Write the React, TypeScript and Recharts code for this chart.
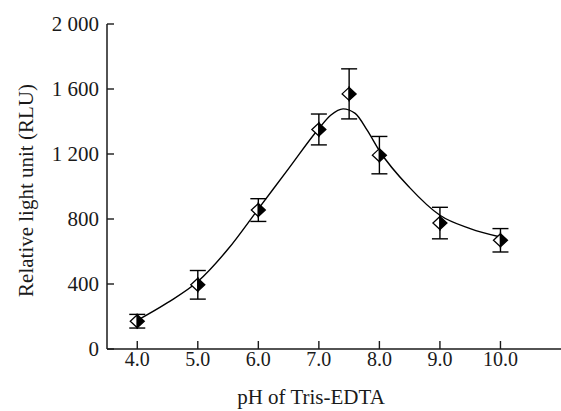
import { ComposedChart, Line, Scatter, ErrorBar, XAxis, YAxis } from "recharts";

// measured points (mean ± sd)
const phValues = [4.0, 5.0, 6.0, 7.0, 7.5, 8.0, 9.0, 10.0];
const rluValues = [171, 395, 855, 1351, 1570, 1193, 775, 669];
const rluErrors = [42, 88, 70, 95, 154, 115, 97, 72];

// fitted curve
const fitPh = [4.0, 4.5, 5.0, 5.5, 6.0, 6.5, 7.0, 7.2, 7.4, 7.6, 7.8, 8.0, 8.5, 9.0, 9.5, 10.0];
const fitRlu = [176, 285, 415, 615, 862, 1110, 1357, 1440, 1478, 1450, 1345, 1220, 993, 823, 741, 689];

const xTicks = [4, 5, 6, 7, 8, 9, 10];
const yTicks = [0, 400, 800, 1200, 1600, 2000];

const points = phValues.map((ph, i) => ({ ph, rlu: rluValues[i], err: rluErrors[i] }));
const curve = fitPh.map((ph, i) => ({ ph, rlu: fitRlu[i] }));

const FONT = "'Liberation Serif', 'Times New Roman', serif";
const INK = "#1a1a1a";

function fmtY(v: number): string {
  if (v >= 1000) return `${Math.floor(v / 1000)} ${String(v % 1000).padStart(3, "0")}`;
  return String(v);
}

function XTick(props: any) {
  const { x, y, payload } = props;
  return (
    <g>
      <line x1={x} x2={x} y1={y} y2={y - 8} stroke={INK} strokeWidth={1.4} />
      <text x={x} y={y + 17} textAnchor="middle" fontFamily={FONT} fontSize={20} fill={INK}>
        {Number(payload.value).toFixed(1)}
      </text>
    </g>
  );
}

function YTick(props: any) {
  const { x, y, payload } = props;
  return (
    <g>
      <line x1={x} x2={x + 7} y1={y} y2={y} stroke={INK} strokeWidth={1.4} />
      <text x={x - 8} y={y + 7} textAnchor="end" fontFamily={FONT} fontSize={21} fill={INK}>
        {fmtY(payload.value)}
      </text>
    </g>
  );
}

// half-open diamond: white left half, black right half
function Diamond(props: any) {
  const { cx, cy } = props;
  if (cx == null || cy == null) return null;
  const w = 7;
  const h = 6.5;
  return (
    <g>
      <path d={`M${cx},${cy - h} L${cx - w},${cy} L${cx},${cy + h} Z`} fill="#fff" stroke="#000" strokeWidth={1.3} />
      <path d={`M${cx},${cy - h} L${cx + w},${cy} L${cx},${cy + h} Z`} fill="#000" stroke="#000" strokeWidth={1.3} />
    </g>
  );
}

export default function App() {
  return (
    <div style={{ position: "absolute", left: 0, top: 0, background: "#fff" }}>
      <ComposedChart width={561} height={411} margin={{ top: 24, right: 0, left: 0, bottom: 0 }}>
        <XAxis
          dataKey="ph"
          type="number"
          domain={[3.5, 11]}
          ticks={xTicks}
          height={62}
          tickSize={0}
          tickMargin={0}
          tick={<XTick />}
          tickLine={false}
          axisLine={{ stroke: INK, strokeWidth: 1.5 }}
          allowDataOverflow
          label={{
            content: (p: any) => {
              const vb = p.viewBox;
              return (
                <text x={vb.x + vb.width / 2 - 23} y={404} textAnchor="middle" fontFamily={FONT} fontSize={21} fill={INK}>
                  pH of Tris-EDTA
                </text>
              );
            },
          }}
        />
        <YAxis
          dataKey="rlu"
          type="number"
          domain={[0, 2000]}
          ticks={yTicks}
          width={107}
          tickSize={0}
          tickMargin={0}
          tick={<YTick />}
          tickLine={false}
          axisLine={{ stroke: INK, strokeWidth: 1.5 }}
          label={{
            content: (p: any) => {
              const vb = p.viewBox;
              const cy = vb.y + vb.height / 2 + 4;
              return (
                <text
                  x={33}
                  y={cy}
                  transform={`rotate(-90, 33, ${cy})`}
                  textAnchor="middle"
                  fontFamily={FONT}
                  fontSize={21}
                  fill={INK}
                >
                  Relative light unit (RLU)
                </text>
              );
            },
          }}
        />
        <Line
          data={curve}
          dataKey="rlu"
          type="monotone"
          stroke="#000"
          strokeWidth={1.4}
          dot={false}
          activeDot={false}
          isAnimationActive={false}
        />
        <Scatter data={points} dataKey="rlu" shape={<Diamond />} isAnimationActive={false}>
          <ErrorBar dataKey="err" direction="y" width={8} stroke="#000" strokeWidth={1.4} />
        </Scatter>
      </ComposedChart>
    </div>
  );
}
